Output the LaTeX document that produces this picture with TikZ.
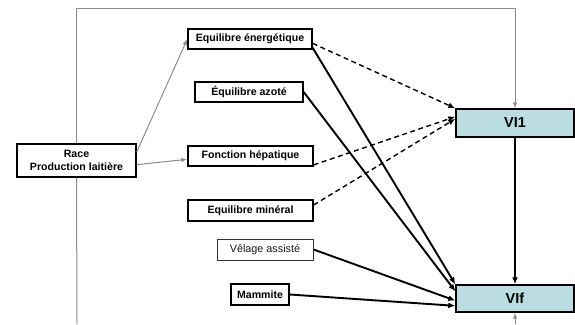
\documentclass[tikz,border=0pt]{standalone}
\usepackage{fontspec}
\setmainfont{Liberation Sans}
\usepackage{xcolor}
\usetikzlibrary{arrows.meta,calc}
\definecolor{viblue}{HTML}{B9DDE0}
\definecolor{loopgray}{HTML}{8C8C8C}
\tikzset{
  facteur/.style={
    draw,
    line width=1.4pt,
    inner sep=0pt,
    font=\fontsize{10.6}{12.5}\selectfont\bfseries,
    align=center
  },
  facteurB/.style={
    draw = black!80,
    line width=1pt,
    inner sep=0pt,
    font=\fontsize{10.8}{12.5}\selectfont,
    text=black!90
  },
  vibox/.style={
    draw,
    line width=1.4pt,
    fill=viblue,
    inner sep=0pt,
    minimum width=118pt,
    font=\fontsize{14.5}{16}\selectfont\bfseries
  },
  lien/.style={
    line width=1.9pt,
    -{Latex[length=7pt,width=6pt]}
  },
  liendash/.style={
    line width=1.4pt,
    dash pattern=on 5pt off 3.5pt,
    -{Latex[length=7pt,width=6pt]}
  },
  liengris/.style={
    draw=loopgray,
    line width=1pt,
    -{Latex[length=6pt,width=4.5pt]}
  }
}

\begin{document}
\begin{tikzpicture}[x=1pt,y=-1pt]
    \useasboundingbox (0,0) rectangle (575,324);
    % boites
    \node[facteur, minimum width=119pt, minimum height=33pt] (race) at (76.5,160.5) {Race\\Production laitière};
    \node[facteur, minimum width=124pt, minimum height=20pt] (ener) at (250,39) {Equilibre énergétique};
    \node[facteur, minimum width=108pt, minimum height=20pt] (azote) at (249,92) {Équilibre azoté};
    \node[facteur, minimum width=125pt, minimum height=20pt] (hepat) at (250.5,156) {Fonction hépatique};
    \node[facteur, minimum width=125pt, minimum height=21pt] (miner) at (250.5,210.5) {Equilibre minéral};
    \node[facteurB, minimum width=96pt, minimum height=21pt] (velage) at (265,249.5) {Vêlage assisté};
    \node[facteur, minimum width=58pt, minimum height=21pt] (mammite) at (260,294.5) {Mammite};
    \node[vibox, minimum height=28pt] (vi1) at (515,123) {VI1};
    \node[vibox, minimum height=27pt] (vif) at (515,298.5) {VIf};
    % boucle grise
    \coordinate (hautd) at (515,8);
    \coordinate (basg) at (77,324);
    \coordinate (basd) at (515,324);
    \draw[liengris] (race.north) |- (hautd) -- (vi1.north);
    \draw[draw=loopgray, line width=1pt] (race.south) -- (basg);
    \draw[liengris] (basd) -- (vif.south);
    \draw[liengris] (race.8) -- (ener.west);
    \draw[liengris] (race.-4) -- (hepat.183);
    % vers VI1
    \draw[liendash] (ener.-4) -- (vi1.north west);
    \draw[liendash] (hepat.-8) -- (vi1.174);
    \draw[liendash] (miner.5) -- (vi1.176);
    % vers VIf
    \draw[lien] (ener.-8) -- (vif.north west);
    \draw[lien] (azote.east) -- (vif.173);
    \draw[lien] (velage.east) -- (vif.182);
    \draw[lien] (mammite.east) -- (vif.187);
    \draw[lien, line width=2.4pt] (vi1.south) -- (vif.north);
\end{tikzpicture}
\end{document}
